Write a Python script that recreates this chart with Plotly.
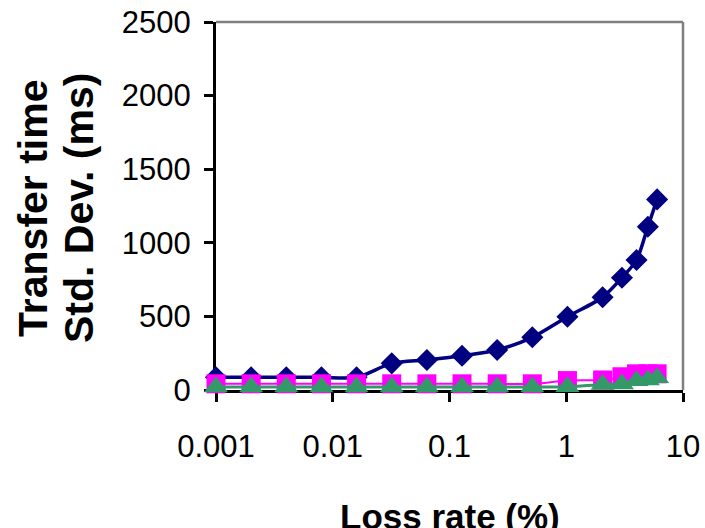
import plotly.graph_objects as go

# Data
loss_rate = [0.001, 0.002, 0.004, 0.008, 0.016, 0.032, 0.064, 0.128,
             0.256, 0.512, 1.024, 2.048, 3, 4, 5, 6]
series_a = [86, 86, 86, 86, 86, 181, 204, 233, 272, 358, 498, 630, 763, 883, 1109, 1295]
series_b = [42, 42, 42, 42, 42, 42, 42, 42, 42, 42, 64, 68, 90, 110, 110, 110]
series_c = [20, 20, 20, 20, 20, 20, 20, 20, 20, 20, 22, 38, 41, 63, 68, 84]

x_tickvals = [0.001, 0.01, 0.1, 1, 10]
x_ticktext = ["0.001", "0.01", "0.1", "1", "10"]
y_tickvals = [0, 500, 1000, 1500, 2000, 2500]

FONT = "Liberation Sans, Arial, sans-serif"

fig = go.Figure()
fig.add_trace(go.Scatter(
    x=loss_rate, y=series_a, mode="lines+markers", cliponaxis=False,
    line=dict(color="#000080", width=3.5, shape="spline", smoothing=0.8),
    marker=dict(symbol="diamond", size=17, color="#000080", line=dict(width=0)),
    showlegend=False))
fig.add_trace(go.Scatter(
    x=loss_rate, y=series_b, mode="lines+markers", cliponaxis=False,
    line=dict(color="#FF00FF", width=2, shape="spline", smoothing=0.8),
    marker=dict(symbol="square", size=19, color="#FF00FF", line=dict(width=0)),
    showlegend=False))
fig.add_trace(go.Scatter(
    x=loss_rate, y=series_c, mode="lines+markers", cliponaxis=False,
    line=dict(color="#339966", width=3, shape="spline", smoothing=0.8),
    marker=dict(symbol="triangle-up", size=21, color="#339966", line=dict(width=0)),
    showlegend=False))

fig.update_layout(
    width=705, height=528,
    margin=dict(l=216, r=22, t=22, b=138),
    paper_bgcolor="white", plot_bgcolor="white",
    font=dict(family=FONT, color="black"),
    xaxis=dict(
        type="log", range=[-3, 1], automargin=False,
        tickvals=x_tickvals, ticktext=x_ticktext,
        showgrid=False, zeroline=False,
        showline=True, linecolor="black", linewidth=3,
        ticks="outside", ticklen=9, tickwidth=3, tickcolor="black",
        tickfont=dict(family=FONT, size=31, color="black"),
        ticklabelstandoff=18, layer="below traces"),
    yaxis=dict(
        range=[0, 2500], tickvals=y_tickvals, automargin=False,
        showgrid=False, zeroline=False,
        showline=True, linecolor="black", linewidth=3,
        ticks="outside", ticklen=9, tickwidth=3, tickcolor="black",
        tickfont=dict(family=FONT, size=31, color="black"),
        ticklabelstandoff=7, layer="below traces"),
    shapes=[
        dict(type="line", xref="paper", yref="paper", x0=0, x1=1, y0=1, y1=1,
             line=dict(color="#808080", width=2.5), layer="below"),
        dict(type="line", xref="paper", yref="paper", x0=1, x1=1, y0=0, y1=1,
             line=dict(color="#808080", width=2.5), layer="below"),
    ],
    annotations=[
        dict(text="<b>Transfer time</b>", xref="paper", yref="paper",
             x=(33 - 216) / 467, y=(390 - 208) / 368, textangle=-90,
             xanchor="center", yanchor="middle", showarrow=False,
             font=dict(family=FONT, size=41, color="black")),
        dict(text="<b>Std. Dev. (ms)</b>", xref="paper", yref="paper",
             x=(79 - 216) / 467, y=(390 - 208) / 368, textangle=-90,
             xanchor="center", yanchor="middle", showarrow=False,
             font=dict(family=FONT, size=41, color="black")),
        dict(text="<b>Loss rate (%)</b>", xref="paper", yref="paper",
             x=0.5, y=(390 - 495) / 368,
             xanchor="center", yanchor="top", showarrow=False,
             font=dict(family=FONT, size=35, color="black")),
    ],
)

fig.write_html("out.html")
